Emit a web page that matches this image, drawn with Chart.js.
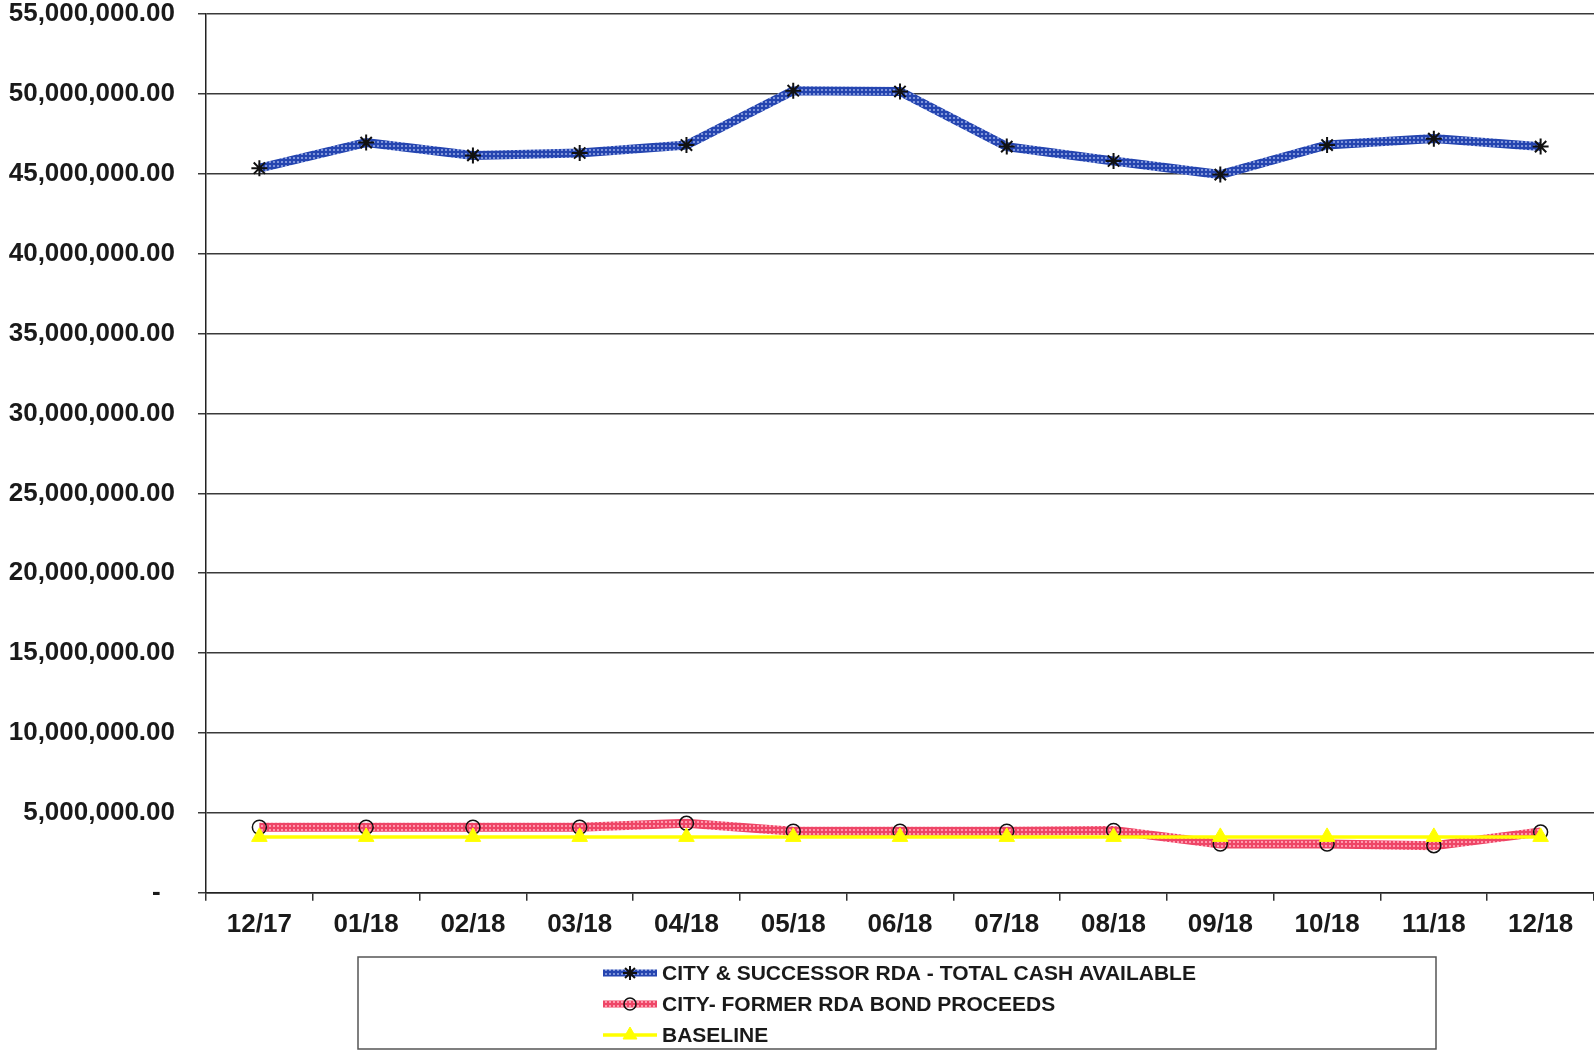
<!DOCTYPE html>
<html>
<head>
<meta charset="utf-8">
<script src="https://cdn.jsdelivr.net/npm/chart.js@4.4.1/dist/chart.umd.min.js"></script>
<style>
  html, body { margin: 0; padding: 0; background: #fff; overflow: hidden; }
  canvas { display: block; }
</style>
</head>
<body>
<canvas id="cash-chart" width="1594" height="1050"></canvas>
<script>
// ── Data ────────────────────────────────────────────────────────────
const months = ["12/17", "01/18", "02/18", "03/18", "04/18", "05/18", "06/18",
                "07/18", "08/18", "09/18", "10/18", "11/18", "12/18"];

const totalCash = [45350000, 46950000, 46150000, 46300000, 46800000, 50200000, 50150000,
                   46700000, 45800000, 44950000, 46800000, 47200000, 46700000];

const bondProceeds = [4100000, 4100000, 4100000, 4100000, 4350000, 3850000, 3850000,
                      3850000, 3900000, 3050000, 3050000, 2950000, 3800000];

const baseline = [3500000, 3500000, 3500000, 3500000, 3500000, 3500000, 3500000,
                  3500000, 3500000, 3500000, 3500000, 3500000, 3500000];

const seriesNames = ["CITY & SUCCESSOR RDA - TOTAL CASH AVAILABLE",
                     "CITY- FORMER RDA BOND PROCEEDS",
                     "BASELINE"];

const FONT = "'Liberation Sans', Arial, sans-serif";

// ── Textured line colours (scan looks dotted) ───────────────────────
function dotPattern(ctx, base, dot) {
    const c = document.createElement("canvas");
    c.width = 4; c.height = 4;
    const g = c.getContext("2d");
    g.fillStyle = base;
    g.fillRect(0, 0, 4, 4);
    g.fillStyle = dot;
    g.fillRect(1, 1, 2, 2);
    return ctx.createPattern(c, "repeat");
}

// ── Boxed legend drawn under the axis, one row per series ───────────
const boxedLegend = {
    id: "boxedLegend",
    afterDraw(chart, args, opts) {
        const ctx = chart.ctx;
        ctx.save();
        ctx.strokeStyle = "#555";
        ctx.lineWidth = 1.5;
        ctx.strokeRect(opts.left, opts.top, opts.width, opts.height);

        chart.data.datasets.forEach((ds, i) => {
            const y = opts.top + opts.firstRow + i * opts.rowGap;
            const x0 = opts.sampleX;
            const x1 = opts.sampleX + opts.sampleW;

            ctx.strokeStyle = ds.borderColor;
            ctx.lineWidth = Math.min(ds.borderWidth, 7);
            ctx.beginPath();
            ctx.moveTo(x0, y);
            ctx.lineTo(x1, y);
            ctx.stroke();

            ctx.fillStyle = ds.pointBackgroundColor;
            ctx.strokeStyle = ds.pointBorderColor;
            ctx.lineWidth = ds.pointBorderWidth;
            Chart.helpers.drawPoint(ctx, {
                pointStyle: ds.pointStyle,
                rotation: 0,
                radius: ds.pointRadius - 1,
                borderWidth: ds.pointBorderWidth,
            }, (x0 + x1) / 2, y);

            ctx.fillStyle = "#1a1a1a";
            ctx.font = "bold 21px " + FONT;
            ctx.textAlign = "left";
            ctx.textBaseline = "middle";
            ctx.fillText(ds.label, opts.textX, y + 1);
        });
        ctx.restore();
    }
};

const ctx = document.getElementById("cash-chart").getContext("2d");
const bluePat = dotPattern(ctx, "#2545b0", "#7f95da");
const redPat = dotPattern(ctx, "#ee4667", "#ff9aae");

new Chart(ctx, {
    type: "line",
    data: {
        labels: months,
        datasets: [
            {
                label: seriesNames[0],
                data: totalCash,
                borderColor: bluePat,
                borderWidth: 9,
                pointStyle: "star",
                pointRadius: 8,
                pointBorderColor: "#111",
                pointBackgroundColor: "#111",
                pointBorderWidth: 2,
                order: 2,
            },
            {
                label: seriesNames[1],
                data: bondProceeds,
                borderColor: redPat,
                borderWidth: 9,
                pointStyle: "circle",
                pointRadius: 7,
                pointBorderColor: "#111",
                pointBackgroundColor: "rgba(0,0,0,0)",
                pointBorderWidth: 1.5,
                order: 1,
            },
            {
                label: seriesNames[2],
                data: baseline,
                borderColor: "#ffff00",
                borderWidth: 3.5,
                pointStyle: "triangle",
                pointRadius: 9,
                pointBorderColor: "#ffff00",
                pointBackgroundColor: "#ffff00",
                pointBorderWidth: 1,
                order: 0,
            },
        ]
    },
    options: {
        responsive: false,
        animation: false,
        layout: { autoPadding: false, padding: { top: 14, right: 0, bottom: 102, left: 0 } },
        plugins: {
            legend: { display: false },
            tooltip: { enabled: false },
            boxedLegend: {
                left: 358, top: 957, width: 1078, height: 92,
                firstRow: 16, rowGap: 31,
                sampleX: 603, sampleW: 54, textX: 662,
            },
        },
        scales: {
            x: {
                offset: true,
                ticks: {
                    color: "#1a1a1a",
                    font: { family: FONT, size: 26, weight: "bold" },
                    padding: 8,
                    maxRotation: 0,
                    autoSkip: false,
                },
                grid: {
                    offset: true,
                    drawOnChartArea: false,
                    tickLength: 8,
                    color: "#333",
                    lineWidth: 1.5,
                },
                border: { color: "#222", width: 1.5 },
                afterFit: s => { s.paddingLeft = 0; s.paddingRight = 0; },
            },
            y: {
                min: 0,
                max: 55000000,
                ticks: {
                    stepSize: 5000000,
                    color: "#1a1a1a",
                    padding: 23,
                    font: { family: FONT, size: 26, weight: "bold" },
                    callback: v => v === 0 ? "-  "
                        : v.toLocaleString("en-US", { minimumFractionDigits: 2, maximumFractionDigits: 2 }),
                },
                grid: { color: "#3a3a3a", lineWidth: 1.5, tickLength: 8 },
                border: { color: "#222", width: 1.5 },
                afterFit: s => { s.width = 206; s.paddingTop = 0; s.paddingBottom = 0; },
            },
        },
    },
    plugins: [boxedLegend],
});
</script>
</body>
</html>
